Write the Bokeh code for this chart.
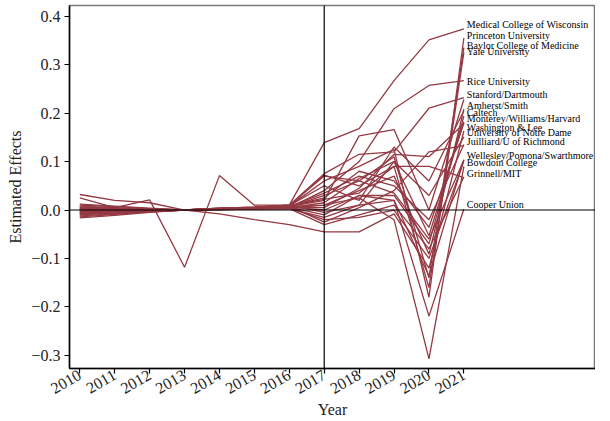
import math
from bokeh.plotting import figure
from bokeh.models import Span, FixedTicker, ColumnDataSource, Range1d
from bokeh.core.properties import value
from bokeh.embed import file_html
from bokeh.resources import INLINE

years = [2010, 2011, 2012, 2013, 2014, 2015, 2016, 2017, 2018, 2019, 2020, 2021]

schools = [
    "Medical College of Wisconsin", "Princeton University", "Baylor College of Medicine",
    "Yale University", "Rice University", "Stanford", "Dartmouth", "Amherst", "Smith",
    "Caltech", "Monterey", "Williams", "Harvard", "Washington & Lee",
    "University of Notre Dame", "Juilliard", "U of Richmond", "Wellesley", "Pomona",
    "Swarthmore", "Bowdoin College", "Grinnell", "MIT", "Cooper Union",
]

effects = [
    [-0.005, -0.003, -0.002, 0.000, 0.003, 0.006, 0.010, 0.139, 0.168, 0.267, 0.351, 0.374],
    [0.003, 0.002, 0.001, 0.000, 0.004, 0.005, 0.008, 0.060, 0.090, 0.125, -0.180, 0.355],
    [-0.010, -0.006, -0.003, 0.000, 0.002, 0.004, 0.006, 0.030, 0.060, 0.110, -0.140, 0.335],
    [0.000, 0.000, 0.000, 0.000, 0.003, 0.005, 0.009, 0.072, 0.050, 0.090, -0.160, 0.325],
    [-0.008, -0.005, -0.002, 0.000, 0.002, 0.003, 0.005, 0.040, 0.100, 0.209, 0.257, 0.267],
    [0.005, 0.003, 0.001, 0.000, 0.004, 0.006, 0.010, 0.075, 0.115, 0.120, 0.210, 0.232],
    [-0.003, -0.002, -0.001, 0.000, 0.002, 0.004, 0.007, 0.020, 0.153, 0.166, 0.000, 0.228],
    [-0.012, -0.008, -0.004, 0.000, 0.001, 0.002, 0.004, 0.010, 0.040, 0.070, -0.091, 0.208],
    [0.010, 0.007, 0.003, 0.000, 0.003, 0.005, 0.009, 0.050, 0.020, 0.130, 0.060, 0.205],
    [-0.006, -0.004, -0.002, 0.000, 0.002, 0.004, 0.006, -0.010, 0.030, 0.030, -0.070, 0.194],
    [0.025, 0.005, 0.021, -0.118, 0.071, 0.010, 0.010, -0.005, 0.010, 0.100, -0.053, 0.182],
    [0.004, 0.003, 0.001, 0.000, 0.003, 0.005, 0.008, 0.025, 0.080, 0.060, -0.036, 0.180],
    [-0.002, -0.001, -0.001, 0.000, 0.002, 0.003, 0.005, 0.005, 0.045, 0.115, 0.110, 0.178],
    [0.032, 0.020, 0.015, 0.000, -0.008, -0.020, -0.030, -0.045, -0.045, -0.008, -0.120, 0.163],
    [-0.014, -0.009, -0.004, 0.000, 0.001, 0.003, 0.005, 0.015, 0.065, 0.100, 0.030, 0.151],
    [0.000, 0.000, 0.000, 0.000, 0.002, 0.004, 0.007, 0.035, 0.070, 0.050, -0.020, 0.135],
    [0.008, 0.005, 0.002, 0.000, 0.003, 0.005, 0.008, -0.025, 0.005, 0.040, 0.120, 0.133],
    [-0.004, -0.003, -0.001, 0.000, 0.002, 0.004, 0.006, 0.000, 0.030, 0.020, -0.136, 0.104],
    [0.006, 0.004, 0.002, 0.000, 0.004, 0.006, 0.010, 0.070, 0.060, 0.035, -0.060, 0.103],
    [-0.009, -0.006, -0.003, 0.000, 0.001, 0.003, 0.004, -0.020, -0.015, 0.000, -0.100, 0.101],
    [0.002, 0.001, 0.001, 0.000, 0.002, 0.004, 0.007, 0.010, 0.025, -0.020, -0.307, 0.090],
    [-0.016, -0.011, -0.005, 0.000, 0.001, 0.002, 0.003, -0.030, -0.010, 0.010, -0.080, 0.068],
    [0.012, 0.008, 0.004, 0.000, 0.003, 0.005, 0.009, 0.022, 0.035, 0.090, 0.090, 0.067],
    [-0.007, -0.005, -0.002, 0.000, 0.001, 0.002, 0.003, -0.015, 0.010, 0.020, -0.219, 0.002],
]

label_names = [
    "Medical College of Wisconsin", "Princeton University", "Baylor College of Medicine",
    "Yale University", "Rice University", "Stanford/Dartmouth", "Amherst/Smith", "Caltech",
    "Monterey/Williams/Harvard", "Washington & Lee", "University of Notre Dame",
    "Juilliard/U of Richmond", "Wellesley/Pomona/Swarthmore", "Bowdoin College",
    "Grinnell/MIT", "Cooper Union",
]
label_y = [0.383, 0.361, 0.340, 0.328, 0.266, 0.238, 0.215, 0.202, 0.189, 0.171,
           0.159, 0.142, 0.112, 0.098, 0.076, 0.011]
label_year = [2021] * len(label_names)

y_ticks = [-0.3, -0.2, -0.1, 0.0, 0.1, 0.2, 0.3, 0.4]
y_tick_labels = ["\u22120.3", "\u22120.2", "\u22120.1", "0.0", "0.1", "0.2", "0.3", "0.4"]

FONT = "Liberation Serif"
LINE_COLOR = "#943943"

p = figure(frame_width=526, frame_height=363, output_backend="svg", toolbar_location=None,
           x_range=Range1d(2009.705, 2024.77), y_range=Range1d(-0.327, 0.422),
           min_border_left=69, min_border_right=0, min_border_top=5, min_border_bottom=0)

for vals in effects:
    p.line(years, vals, line_color=LINE_COLOR, line_width=1.3)

p.add_layout(Span(location=2017, dimension="height", line_color="black", line_width=1.2))
p.add_layout(Span(location=0, dimension="width", line_color="black", line_width=1.2))

src = ColumnDataSource(dict(x=label_year, y=label_y, t=label_names))
p.text(x="x", y="y", text="t", source=src, x_offset=3, text_baseline="middle",
       text_align="left", text_font=value(FONT), text_font_size="10px", text_color="black")

p.xgrid.visible = False
p.ygrid.visible = False
p.outline_line_color = "#777777"
p.outline_line_width = 1.5

p.xaxis.ticker = FixedTicker(ticks=years)
p.xaxis.major_label_orientation = math.pi / 6
p.yaxis.ticker = FixedTicker(ticks=y_ticks)
p.yaxis.major_label_overrides = {t: l for t, l in zip(y_ticks, y_tick_labels)}

for ax in (p.xaxis, p.yaxis):
    ax.axis_line_color = "black"
    ax.axis_line_width = 1.5
    ax.major_tick_line_color = "black"
    ax.major_tick_line_width = 1.2
    ax.major_tick_out = 5
    ax.major_tick_in = 0
    ax.minor_tick_line_color = None
    ax.major_label_text_font = FONT
    ax.major_label_text_font_size = "16px"
    ax.major_label_text_color = "#222222"
    ax.axis_label_text_font = FONT
    ax.axis_label_text_font_size = "16px"
    ax.axis_label_text_font_style = "normal"
    ax.axis_label_text_color = "#222222"

p.xaxis.axis_label = "Year"
p.yaxis.axis_label = "Estimated Effects"
p.xaxis.major_label_standoff = 0
p.xaxis.axis_label_standoff = -1
p.yaxis.major_label_standoff = 4
p.yaxis.axis_label_standoff = 4

open("out.html", "w").write(file_html(p, INLINE))
